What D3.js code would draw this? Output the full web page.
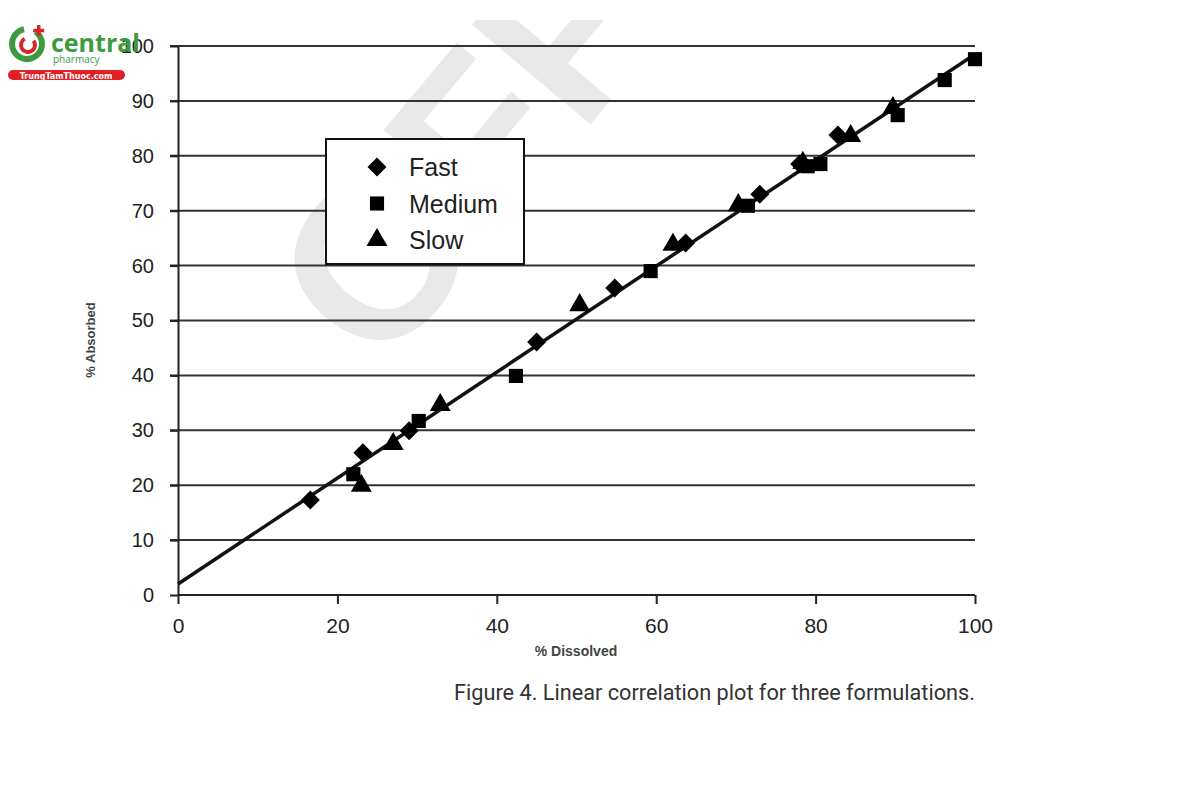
<!DOCTYPE html>
<html>
<head>
<meta charset="utf-8">
<script src="https://cdn.jsdelivr.net/npm/d3@7"></script>
<style>
  html, body { margin: 0; padding: 0; background: #fff; }
  svg { display: block; }
</style>
</head>
<body>
<svg id="chart" width="1200" height="800"></svg>
<script>
// ---- Data ----
const xTicks = [0, 20, 40, 60, 80, 100];
const yTicks = [0, 10, 20, 30, 40, 50, 60, 70, 80, 90, 100];

const fastX = [16.6, 23.2, 29.0, 45.0, 54.8, 63.7, 73.0, 78.0, 82.8];
const fastY = [17.3, 25.9, 29.9, 46.1, 55.9, 64.1, 73.0, 78.5, 83.8];

const mediumX = [22.0, 30.2, 42.4, 59.3, 71.5, 79.0, 80.6, 90.3, 96.2, 100.0];
const mediumY = [22.0, 31.7, 39.9, 59.0, 70.9, 78.1, 78.5, 87.4, 93.8, 97.6];

const slowX = [23.0, 27.0, 32.9, 50.4, 62.1, 70.3, 78.4, 84.4, 89.7];
const slowY = [19.9, 27.5, 34.6, 52.8, 63.8, 71.0, 78.7, 83.6, 88.7];

const fitX = [0, 100];
const fitY = [2.0, 98.5];

const seriesNames = ["Fast", "Medium", "Slow"];

// ---- Setup ----
const svg = d3.select("#chart");
const x = d3.scaleLinear().domain([0, 100]).range([178, 975]);
const y = d3.scaleLinear().domain([0, 100]).range([595, 46]);

// Watermark
svg.append("clipPath").attr("id", "wmclip")
  .append("rect").attr("x", 0).attr("y", 20).attr("width", 1200).attr("height", 780);
svg.append("g").attr("clip-path", "url(#wmclip)")
  .append("text")
  .attr("transform", "translate(380,375) rotate(-50)")
  .attr("font-family", "Liberation Sans, Arial, sans-serif")
  .attr("font-weight", "bold")
  .attr("font-size", 225)
  .attr("fill", "#e9e9e9")
  .text("OFF");

// Grid lines
svg.append("g").selectAll("line.grid")
  .data(yTicks.filter(d => d > 0))
  .join("line")
  .attr("x1", 170).attr("x2", x(100))
  .attr("y1", d => y(d)).attr("y2", d => y(d))
  .attr("stroke", "#333").attr("stroke-width", 2);

// X axis
const xAxis = svg.append("g").attr("transform", `translate(0,${y(0)})`)
  .call(d3.axisBottom(x).tickValues(xTicks).tickSize(9).tickPadding(14).tickSizeOuter(0));
xAxis.select(".domain").attr("stroke", "#222").attr("stroke-width", 2).attr("d", `M${x(0)},0H${x(100)}`);
xAxis.selectAll(".tick line").attr("stroke", "#222").attr("stroke-width", 2);
xAxis.selectAll(".tick text")
  .attr("font-family", "Liberation Sans, Arial, sans-serif")
  .attr("font-size", 21).attr("fill", "#222");

// Y axis
const yAxis = svg.append("g").attr("transform", `translate(${x(0)},0)`)
  .call(d3.axisLeft(y).tickValues(yTicks).tickSize(8).tickPadding(16).tickSizeOuter(0));
yAxis.select(".domain").attr("stroke", "#222").attr("stroke-width", 2);
yAxis.selectAll(".tick line").attr("stroke", "#222").attr("stroke-width", 2);
yAxis.selectAll(".tick text")
  .attr("font-family", "Liberation Sans, Arial, sans-serif")
  .attr("font-size", 20).attr("fill", "#222");

// Axis titles
svg.append("text").attr("x", 576).attr("y", 656).attr("text-anchor", "middle")
  .attr("font-family", "Liberation Sans, Arial, sans-serif").attr("font-weight", "bold")
  .attr("font-size", 14).attr("fill", "#444").text("% Dissolved");
svg.append("text").attr("transform", "translate(95,340) rotate(-90)").attr("text-anchor", "middle")
  .attr("font-family", "Liberation Sans, Arial, sans-serif").attr("font-weight", "bold")
  .attr("font-size", 13).attr("fill", "#444").text("% Absorbed");

// Fit line
svg.append("path")
  .datum(fitX.map((d, i) => [d, fitY[i]]))
  .attr("d", d3.line().x(d => x(d[0])).y(d => y(d[1])))
  .attr("stroke", "#111").attr("stroke-width", 3.5).attr("fill", "none");

// Symbols
const symDiamond = d3.symbol().type(d3.symbolDiamond2).size(230);
const symSquare = d3.symbol().type(d3.symbolSquare).size(200);
const symTriangle = d3.symbol().type(d3.symbolTriangle).size(190);

function drawSeries(xs, ys, sym) {
  svg.append("g").selectAll("path")
    .data(xs.map((d, i) => [d, ys[i]]))
    .join("path")
    .attr("transform", d => `translate(${x(d[0])},${y(d[1])})`)
    .attr("d", sym())
    .attr("fill", "#000");
}
drawSeries(slowX, slowY, symTriangle);
drawSeries(mediumX, mediumY, symSquare);
drawSeries(fastX, fastY, symDiamond);

// Legend
const lg = svg.append("g");
lg.append("rect").attr("x", 326).attr("y", 139).attr("width", 198).attr("height", 125)
  .attr("fill", "#fff").attr("stroke", "#111").attr("stroke-width", 2);
const legSyms = [symDiamond, symSquare, symTriangle];
seriesNames.forEach((name, i) => {
  const cy = 167 + i * 36.5;
  lg.append("path").attr("transform", `translate(377,${cy})`).attr("d", legSyms[i]()).attr("fill", "#000");
  lg.append("text").attr("x", 409).attr("y", cy + 9)
    .attr("font-family", "Liberation Sans, Arial, sans-serif")
    .attr("font-size", 25).attr("fill", "#222").text(name);
});

// Caption
svg.append("text").attr("x", 975).attr("y", 700).attr("text-anchor", "end")
  .attr("font-family", "Roboto, sans-serif").attr("font-size", 21.7).attr("fill", "#333")
  .text("Figure 4. Linear correlation plot for three formulations.");

// Logo (top-left)
const logo = svg.append("g");
logo.append("path")
  .attr("d", d3.arc().innerRadius(12).outerRadius(18).startAngle(0.6).endAngle(2 * Math.PI - 0.2)())
  .attr("transform", "translate(27,44)").attr("fill", "#3d9a3f");
logo.append("path")
  .attr("d", d3.arc().innerRadius(5).outerRadius(9).startAngle(0.9).endAngle(2 * Math.PI - 0.5)())
  .attr("transform", "translate(28,45)").attr("fill", "#d9262c");
logo.append("rect").attr("x", 37).attr("y", 25).attr("width", 3.5).attr("height", 11).attr("fill", "#d9262c");
logo.append("rect").attr("x", 33.2).attr("y", 28.8).attr("width", 11).attr("height", 3.5).attr("fill", "#d9262c");
logo.append("text").attr("x", 51).attr("y", 52)
  .attr("font-family", "Open Sans, sans-serif").attr("font-weight", "bold")
  .attr("font-size", 25).attr("fill", "#3d9a3f").text("central");
logo.append("text").attr("x", 53).attr("y", 63)
  .attr("font-family", "Open Sans, sans-serif").attr("font-size", 10).attr("fill", "#3d9a3f").text("pharmacy");
logo.append("rect").attr("x", 8).attr("y", 70).attr("width", 117).attr("height", 10).attr("rx", 5)
  .attr("fill", "#e11f26");
logo.append("text").attr("x", 66).attr("y", 78.5).attr("text-anchor", "middle")
  .attr("font-family", "DejaVu Sans, sans-serif").attr("font-weight", "bold")
  .attr("font-size", 8).attr("fill", "#fff").text("TrungTamThuoc.com");
</script>
</body>
</html>
